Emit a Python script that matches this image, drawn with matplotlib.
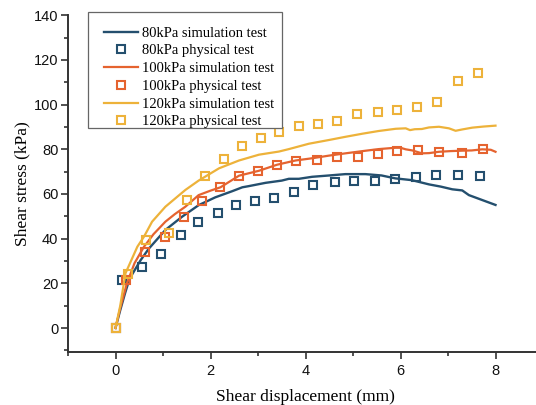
import matplotlib
matplotlib.use("Agg")
import matplotlib.pyplot as plt
import matplotlib.patches as patches
from matplotlib.ticker import MultipleLocator

# colours
BLUE   = "#244f6e"
ORANGE = "#e5632f"
YELLOW = "#edb23a"

# simulation curves (shear displacement mm, shear stress kPa)
sim80_x = [0, 0.1, 0.2, 0.28, 0.35, 0.53, 0.7, 1.05, 1.4, 1.75, 2.1, 2.45, 2.67, 2.8, 3.16,
           3.5, 3.65, 3.86, 4.14, 4.5, 4.84, 5.26, 5.6, 5.89, 6.24, 6.6, 6.85, 7.09, 7.3,
           7.44, 7.72, 8.0]
sim80_y = [0, 8, 15.5, 21, 24, 30.4, 35.5, 43.9, 49.8, 55, 58.5, 61.2, 63, 63.5, 65,
           66, 66.8, 66.8, 67.7, 68.3, 68.9, 68.9, 68.3, 67.0, 66.2, 64.3, 63.3, 62.1, 61.6,
           59.5, 57.3, 55.1]

sim100_x = [0, 0.1, 0.24, 0.4, 0.6, 0.8, 1.05, 1.25, 1.47, 1.75, 2.0, 2.21, 2.6, 3.02, 3.4,
            3.79, 4.14, 4.5, 4.84, 5.2, 5.54, 5.89, 6.0, 6.11, 6.25, 6.45, 6.6, 6.81, 7.05,
            7.3, 7.5, 7.72, 7.9, 8.0]
sim100_y = [0, 9, 20, 29, 36.4, 42, 47.6, 51, 54.3, 59.5, 61.5, 63, 68.2, 70.4, 73.1,
            75, 76, 77.2, 78.2, 79.2, 80.1, 80.7, 80.7, 80.0, 79.5, 78.2, 78.3, 78.9, 79.2,
            79.4, 79.5, 80.0, 79.8, 78.9]

sim120_x = [0, 0.1, 0.21, 0.46, 0.6, 0.77, 1.05, 1.47, 1.75, 2.18, 2.6, 3.02, 3.44, 3.65,
            4.07, 4.5, 4.84, 5.2, 5.54, 5.9, 6.11, 6.2, 6.3, 6.45, 6.6, 6.81, 7.02, 7.16,
            7.3, 7.51, 7.75, 8.0]
sim120_y = [0, 10, 24.5, 36.4, 40.9, 47.6, 54.3, 61.8, 66, 71.5, 75, 77.6, 79, 80.1,
            82.5, 84.2, 85.6, 87, 88.2, 89.2, 89.4, 88.6, 89, 89.1, 89.8, 90.1, 89.4, 88.3,
            88.9, 89.7, 90.2, 90.6]

# physical test points
phy80_x = [0, 0.13, 0.55, 0.96, 1.37, 1.74, 2.15, 2.53, 2.93, 3.33, 3.75, 4.16, 4.62,
           5.02, 5.47, 5.88, 6.32, 6.75, 7.22, 7.67]
phy80_y = [0, 21.6, 27.2, 33.3, 41.5, 47.4, 51.6, 55.2, 57.0, 58.1, 61.1, 64.0, 65.5,
           65.8, 65.8, 66.6, 67.7, 68.4, 68.4, 68.0]

phy100_x = [0, 0.22, 0.62, 1.04, 1.44, 1.82, 2.21, 2.61, 3.0, 3.40, 3.80, 4.24, 4.67,
            5.11, 5.52, 5.93, 6.36, 6.82, 7.29, 7.73]
phy100_y = [0, 21.6, 34.0, 40.7, 49.6, 56.7, 63.0, 68.0, 70.1, 72.8, 74.8, 75.3, 76.7,
            76.7, 77.9, 79.2, 79.7, 78.8, 78.5, 80.3]

phy120_x = [0, 0.27, 0.64, 1.12, 1.50, 1.89, 2.29, 2.67, 3.06, 3.44, 3.87, 4.27, 4.67,
            5.08, 5.52, 5.92, 6.34, 6.76, 7.21, 7.63]
phy120_y = [0, 24.3, 39.3, 42.4, 57.2, 68.0, 75.5, 81.6, 84.9, 87.6, 90.3, 91.3, 92.5,
            95.7, 96.7, 97.7, 98.9, 101.0, 110.6, 114.3]

SERIF = ["Liberation Serif", "DejaVu Serif"]
SANS  = ["Liberation Sans", "DejaVu Sans"]
W, H = 536, 405

fig = plt.figure(figsize=(W / 100, H / 100), dpi=100)
# axes runs past the right edge, like the reference crop
ax = fig.add_axes([68 / W, 1 - 351.7 / H, 475 / W, 336.4 / H])

mk = dict(ls="none", marker="s", ms=5.6, mfc="none", mew=1.5)

ax.plot(sim80_x, sim80_y, color=BLUE, lw=1.7, label="80kPa simulation test")
ax.plot(phy80_x, phy80_y, color=BLUE, label="80kPa physical test", **mk)
ax.plot(sim100_x, sim100_y, color=ORANGE, lw=1.6, label="100kPa simulation test")
ax.plot(phy100_x, phy100_y, color=ORANGE, label="100kPa physical test", **mk)
ax.plot(sim120_x, sim120_y, color=YELLOW, lw=1.6, label="120kPa simulation test")
ax.plot(phy120_x, phy120_y, color=YELLOW, label="120kPa physical test", **mk)

ax.set_xlim(-1, 9)
ax.set_ylim(-10.6, 140)
ax.xaxis.set_major_locator(MultipleLocator(2))
ax.xaxis.set_minor_locator(MultipleLocator(1))
ax.yaxis.set_major_locator(MultipleLocator(20))
ax.yaxis.set_minor_locator(MultipleLocator(10))

for side in ("top", "right"):
    ax.spines[side].set_visible(False)
for side in ("left", "bottom"):
    ax.spines[side].set_linewidth(1.4)
    ax.spines[side].set_color("#333333")

ax.tick_params(which="major", direction="out", length=5, width=1.2, color="#333333",
               labelsize=10.5, labelcolor="#111111")
ax.tick_params(which="minor", direction="out", length=3, width=1.2, color="#333333")
ax.tick_params(axis="y", which="major", pad=2)
ax.tick_params(axis="x", which="major", pad=4)
for lab in ax.get_xticklabels() + ax.get_yticklabels():
    lab.set_fontfamily(SANS)

ax.set_xlabel("Shear displacement (mm)", fontfamily=SERIF, fontsize=12.5, labelpad=8)
ax.set_ylabel("Shear stress (kPa)", fontfamily=SERIF, fontsize=12.5, labelpad=2)

# legend text without frame, frame drawn by hand (text sits low in the box)
leg = ax.legend(loc="upper left", bbox_to_anchor=(104 / W, 1 - 26.5 / H),
                bbox_transform=fig.transFigure, borderaxespad=0, borderpad=0,
                prop={"family": SERIF, "size": 10.5}, frameon=False,
                handlelength=2.3, handletextpad=0.3, labelspacing=0.31)
leg.set_zorder(6)
frame = patches.Rectangle((88 / W, 1 - 128.3 / H), 194 / W, 116.3 / H,
                          transform=fig.transFigure, facecolor="white",
                          edgecolor="#666666", linewidth=0.9, zorder=5, clip_on=False)
ax.add_patch(frame)

fig.savefig("out.png", dpi=100)
